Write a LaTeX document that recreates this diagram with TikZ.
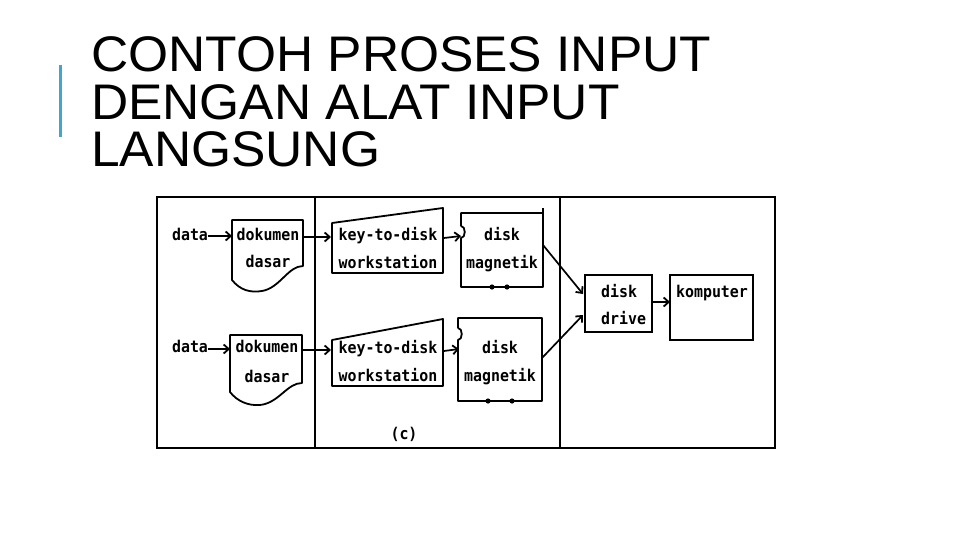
\documentclass[tikz,border=0pt]{standalone}
\usepackage{fontspec}
\setmainfont{Liberation Sans}
\newfontfamily\titlefont[FakeStretch=1.03]{Liberation Sans}
\newfontfamily\diagfont[FakeStretch=0.92]{DejaVu Sans Mono}
\usetikzlibrary{arrows.meta}
\definecolor{barblue}{RGB}{66,166,204}
\begin{document}
\begin{tikzpicture}[x=1pt,y=-1pt,
  title/.style={anchor=base west,inner sep=0pt,font=\titlefont\fontsize{50}{50}\selectfont},
  lbl/.style={anchor=base,inner sep=0pt,font=\diagfont\bfseries\fontsize{16.2}{16}\selectfont},
  outl/.style={line width=1.8pt,line join=round},
  frame/.style={line width=1.8pt},
  arr/.style={line width=1.7pt,-{Straight Barb[length=5pt,width=9pt,line width=1.8pt]}}]
\useasboundingbox (0,0) rectangle (960,540);
% title
\fill[barblue] (58.5,65) rectangle (61.5,137);
\node[title] (t1) at (91,72) {CONTOH PROSES INPUT};
\node[title] (t2) at (91,120) {DENGAN ALAT INPUT};
\node[title] (t3) at (91,167) {LANGSUNG};
% frame
\draw[frame] (157,197) rectangle (775,448);
\draw[frame] (315,197) -- (315,448);
\draw[frame] (560,197) -- (560,448);
% ---------- top row
\node[lbl] (data1) at (190,240) {data};
\draw[outl] (232,220) -- (303,220) -- (303,266)
  .. controls (288,266) and (280,288) .. (262,291)
  .. controls (250,293) and (240,290) .. (232,280) -- cycle;
\node[lbl] (doc1a) at (268,240) {dokumen};
\node[lbl] (doc1b) at (268,267) {dasar};
\draw[outl] (332,223) -- (443,208) -- (443,273) -- (332,273) -- cycle;
\node[lbl] (kd1a) at (388,240) {key-to-disk};
\node[lbl] (kd1b) at (388,268) {workstation};
\draw[outl] (461,226) -- (461,213) -- (543,213) -- (543,287) -- (461,287) -- (461,238)
  .. controls (466,238) and (466,226) .. (461,226);
\draw[outl] (543,213) -- (543,208);
\fill (492,287) circle (2.6);
\fill (507,287) circle (2.6);
\node[lbl] (dm1a) at (502,240) {disk};
\node[lbl] (dm1b) at (502,268) {magnetik};
% ---------- bottom row
\node[lbl] (data2) at (190,352) {data};
\draw[outl] (230,335) -- (302,335) -- (302,383)
  .. controls (287,383) and (279,403) .. (260,405)
  .. controls (248,406) and (237,401) .. (230,392) -- cycle;
\node[lbl] (doc2a) at (267,352) {dokumen};
\node[lbl] (doc2b) at (267,382) {dasar};
\draw[outl] (332,340) -- (443,319) -- (443,386) -- (332,386) -- cycle;
\node[lbl] (kd2a) at (388,353) {key-to-disk};
\node[lbl] (kd2b) at (388,381) {workstation};
\draw[outl] (458,328) -- (458,318) -- (542,318) -- (542,401) -- (458,401) -- (458,340)
  .. controls (463,340) and (463,328) .. (458,328);
\fill (488,401) circle (2.6);
\fill (512,401) circle (2.6);
\node[lbl] (dm2a) at (500,353) {disk};
\node[lbl] (dm2b) at (500,381) {magnetik};
\node[lbl] (cap) at (404,439) {(c)};
% ---------- right part
\node[draw,line width=1.8pt,minimum width=67pt,minimum height=57pt,inner sep=0pt] (drive) at (618.5,303.5) {};
\node[lbl,anchor=base west] (drv1) at (601,297) {disk};
\node[lbl,anchor=base west] (drv2) at (601,324) {drive};
\node[draw,line width=1.8pt,minimum width=83pt,minimum height=65pt,inner sep=0pt] (komp) at (711.5,307.5) {};
\node[lbl] (kompt) at (712,297) {komputer};
% ---------- connectors
\coordinate (c1s) at (208,236); \coordinate (c1e) at (232,236);
\coordinate (c2s) at (303,237); \coordinate (c2e) at (331,237);
\coordinate (c3s) at (444,238); \coordinate (c3e) at (461,236);
\coordinate (c4s) at (208,349); \coordinate (c4e) at (230,349);
\coordinate (c5s) at (302,350); \coordinate (c5e) at (331,350);
\coordinate (c6s) at (444,351); \coordinate (c6e) at (459,349);
\coordinate (c7s) at (543,245); \coordinate (c7e) at (583,294);
\coordinate (c8s) at (542,358); \coordinate (c8e) at (583,315);
\coordinate (c9s) at (652,302); \coordinate (c9e) at (670,302);
\draw[arr] (c1s) -- (c1e);
\draw[arr] (c2s) -- (c2e);
\draw[arr] (c3s) -- (c3e);
\draw[arr] (c4s) -- (c4e);
\draw[arr] (c5s) -- (c5e);
\draw[arr] (c6s) -- (c6e);
\draw[arr] (c7s) -- (c7e);
\draw[arr] (c8s) -- (c8e);
\draw[arr] (c9s) -- (c9e);
\end{tikzpicture}
\end{document}
